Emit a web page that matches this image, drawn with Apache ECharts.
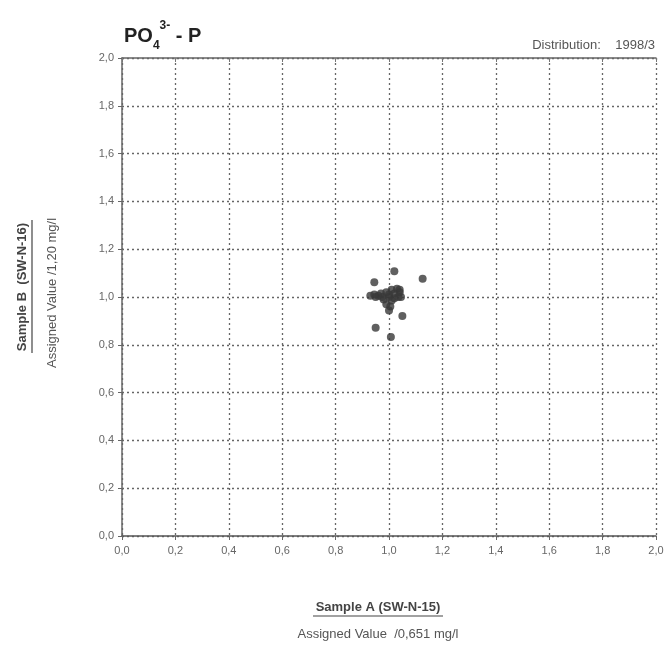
<!DOCTYPE html>
<html><head><meta charset="utf-8">
<script src="https://cdn.jsdelivr.net/npm/echarts@6/dist/echarts.min.js"></script>
<style>html,body{margin:0;padding:0;background:#fff}#c{width:669px;height:650px}</style>
</head><body><div id="c"></div>
<script>
var sampleA = [1.02,1.126,0.945,0.93,0.95,0.97,0.99,1.01,1.03,1.04,1.045,1.02,0.98,1.0,0.99,1.005,1.0,1.05,0.95,1.007,0.96,1.0,1.02,1.035,1.01,0.975,1.04,0.945];
var sampleB = [1.108,1.076,1.062,1.005,1.0,1.015,1.02,1.03,1.035,1.02,1.0,0.995,0.99,1.0,0.97,0.96,0.943,0.92,0.871,0.833,1.005,1.01,1.015,1.0,0.985,1.0,1.03,1.01];
var tickLabels = ['0,0','0,2','0,4','0,6','0,8','1,0','1,2','1,4','1,6','1,8','2,0'];
var pts = sampleA.map(function(a,i){return [a, sampleB[i]];});
var fmt = function(v){ return tickLabels[Math.round(v/0.2)]; };
var chart = echarts.init(document.getElementById('c'));
var font = 'Liberation Sans, Arial, sans-serif';
chart.setOption({
  animation:false,
  backgroundColor:'#fff',
  grid:{left:122,right:13,top:58,bottom:114},
  xAxis:[{
    type:'value',min:0,max:2,interval:0.2,
    axisLine:{lineStyle:{color:'#555',width:1.5}},
    axisTick:{show:true,length:4,lineStyle:{color:'#666'}},
    axisLabel:{formatter:fmt,color:'#666',fontSize:11,fontFamily:font,margin:9},
    splitLine:{show:true,lineStyle:{color:'#666',type:[2,3],width:1.3}}
  },{
    type:'value',position:'top',min:0,max:2,interval:0.2,
    axisLine:{show:true,lineStyle:{color:'#666',width:1.5}},
    axisTick:{show:true,inside:true,length:4,lineStyle:{color:'#777'}},
    axisLabel:{show:false},splitLine:{show:false}
  }],
  yAxis:[{
    type:'value',min:0,max:2,interval:0.2,
    axisLine:{show:true,lineStyle:{color:'#666',width:1.5}},
    axisTick:{show:true,length:4,lineStyle:{color:'#666'}},
    axisLabel:{formatter:fmt,color:'#666',fontSize:11,fontFamily:font,margin:8},
    splitLine:{show:true,lineStyle:{color:'#666',type:[2,3],width:1.3}}
  }],
  series:[{
    type:'scatter',data:pts,symbol:'circle',symbolSize:8,
    itemStyle:{color:'#383838'}
  }],
  graphic:[
    {type:'text',left:124,top:20,style:{
      text:'{m|PO}{s|4}{u|3-}{m| - P}',
      rich:{
        m:{fontSize:20,fontWeight:'bold',fill:'#222',fontFamily:font,verticalAlign:'bottom'},
        s:{fontSize:12,fontWeight:'bold',fill:'#222',fontFamily:font,padding:[0,0,-6,0],verticalAlign:'bottom'},
        u:{fontSize:12,fontWeight:'bold',fill:'#222',fontFamily:font,padding:[0,0,14,0],verticalAlign:'bottom'}
      }}},
    {type:'text',right:14,top:39,style:{text:'Distribution:    1998/3',fontSize:13,fill:'#555',fontFamily:font}},
    {type:'text',x:22,y:287,rotation:Math.PI/2,style:{text:'Sample B  (SW-N-16)',fontSize:13,fontWeight:'bold',fill:'#444',fontFamily:font,align:'center',verticalAlign:'middle'}},
    {type:'line',shape:{x1:32,y1:220,x2:32,y2:353},style:{stroke:'#444',lineWidth:1.2}},
    {type:'text',x:52,y:293,rotation:Math.PI/2,style:{text:'Assigned Value /1,20 mg/l',fontSize:13,fill:'#555',fontFamily:font,align:'center',verticalAlign:'middle'}},
    {type:'text',x:378,y:607,style:{text:'Sample A (SW-N-15)',fontSize:13,fontWeight:'bold',fill:'#444',fontFamily:font,align:'center',verticalAlign:'middle'}},
    {type:'line',shape:{x1:313,y1:616,x2:443,y2:616},style:{stroke:'#444',lineWidth:1.2}},
    {type:'text',x:378,y:634,style:{text:'Assigned Value  /0,651 mg/l',fontSize:13,fill:'#555',fontFamily:font,align:'center',verticalAlign:'middle'}}
  ]
});
</script></body></html>
